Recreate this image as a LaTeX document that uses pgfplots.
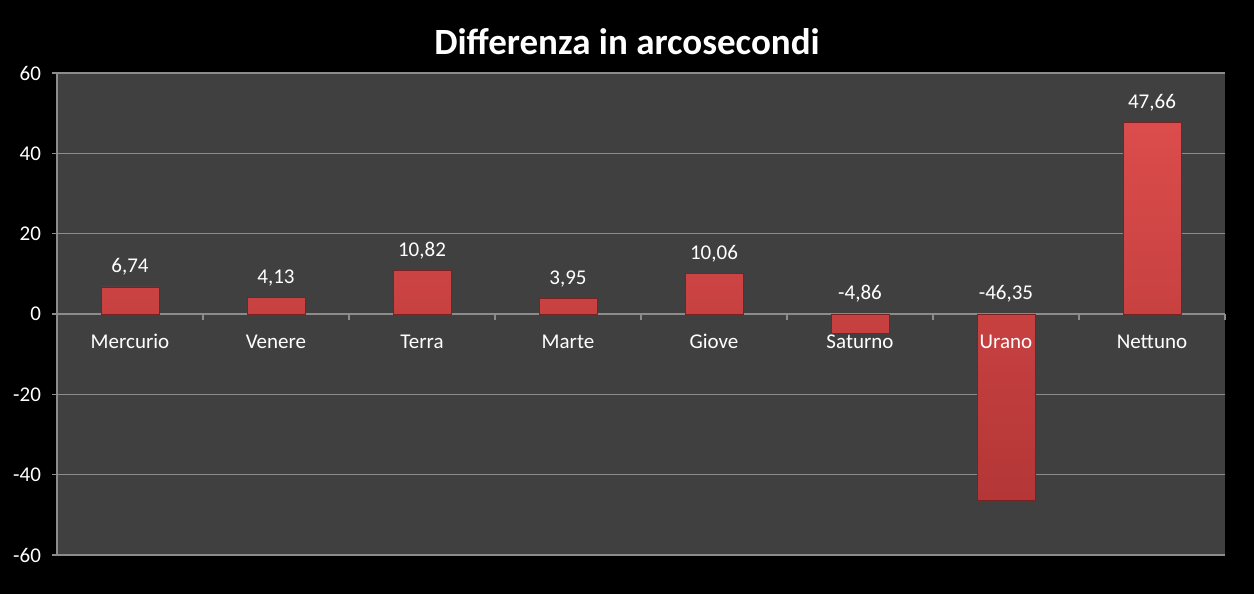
\documentclass[border=0pt]{standalone}
\usepackage{pgfplots}
\pgfplotsset{compat=1.18}
\usepackage{fontspec}
\setmainfont{Carlito}
\definecolor{plotbg}{HTML}{404040}
\definecolor{gridc}{HTML}{8C8C8C}
\definecolor{bartop}{HTML}{DC4C4C}
\definecolor{barbot}{HTML}{B43636}
\definecolor{baredge}{HTML}{7A2222}
\begin{document}
\begin{tikzpicture}[x=1pt,y=1pt]
\fill[black] (0,0) rectangle (627,297);
\node[white, font=\bfseries\fontsize{18.5}{22}\selectfont] at (313.5,276) {Differenza in arcosecondi};
\begin{axis}[
  at={(28.5pt,19.5pt)}, anchor=south west,
  scale only axis, width=584pt, height=241pt,
  xmin=-0.5, xmax=7.5, ymin=-60, ymax=60,
  axis background/.style={fill=plotbg},
  axis x line=middle, axis y line=left,
  axis line style={-, draw=gridc, line width=0.6pt},
  ytick={-60,-40,-20,0,20,40,60},
  yticklabels={-60,-40,-20,0,20,40,60},
  ymajorgrids, grid style={gridc, line width=0.6pt},
  xtick={0,1,2,3,4,5,6,7},
  xticklabels={},
  major x tick style={draw=none},
  minor xtick={-0.5,0.5,1.5,2.5,3.5,4.5,5.5,6.5,7.5},
  minor tick style={draw=gridc, line width=0.6pt},
  minor tick length=3pt, major tick length=2.5pt,
  tick align=outside,
  ytick style={draw=gridc, line width=0.6pt},
  tick label style={white, font=\fontsize{10.5}{12}\selectfont},
  yticklabel style={xshift=-2pt},
  clip=false,
]
\addplot[ybar, bar width=29pt, top color=bartop, bottom color=barbot, draw=baredge, line width=0.4pt]
  coordinates {(0,6.74) (1,4.13) (2,10.82) (3,3.95) (4,10.06) (5,-4.86) (6,-46.35) (7,47.66)};
\addplot[draw=none, mark=none, nodes near coords, point meta=explicit symbolic,
  nodes near coords style={white, font=\fontsize{10.5}{12}\selectfont, anchor=base, yshift=7pt, inner sep=0pt}]
  coordinates {(0,6.74)[6,74] (1,4.13)[4,13] (2,10.82)[10,82] (3,3.95)[3,95] (4,10.06)[10,06] (5,0)[-4,86] (6,0)[-46,35] (7,47.66)[47,66]};
\addplot[draw=none, mark=none, nodes near coords, point meta=explicit symbolic,
  nodes near coords style={white, font=\fontsize{10.5}{12}\selectfont, anchor=base, yshift=-17.5pt, inner sep=0pt}]
  coordinates {(0,0)[Mercurio] (1,0)[Venere] (2,0)[Terra] (3,0)[Marte] (4,0)[Giove] (5,0)[Saturno] (6,0)[Urano] (7,0)[Nettuno]};
\end{axis}
\end{tikzpicture}
\end{document}
